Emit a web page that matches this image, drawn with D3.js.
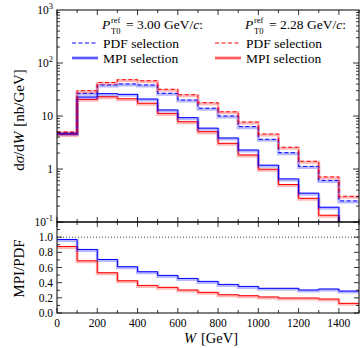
<!DOCTYPE html>
<html>
<head>
<meta charset="utf-8">
<script src="https://cdn.jsdelivr.net/npm/d3@7"></script>
<style>
  body { margin: 0; background: #fff; }
  svg text { font-family: "Liberation Serif", "DejaVu Serif", serif; fill: #000; }
</style>
</head>
<body>
<svg id="chart" width="360" height="348"></svg>
<script>
// bin edges in GeV
var binEdges = [0, 100, 200, 300, 400, 500, 600, 700, 800, 900, 1000, 1100, 1200, 1300, 1400, 1500];

// dsigma/dW [nb/GeV]
var pdfBlue = [4.9, 26.8, 38.5, 40.2, 38.5, 26.8, 20.0, 14.0, 10.0, 6.3, 3.63, 2.03, 1.12, 0.61, 0.25];
var mpiBlue = [4.7, 22.8, 26.4, 25.6, 20.9, 13.0, 9.3, 5.9, 3.85, 2.28, 1.18, 0.65, 0.35, 0.19, 0.072];
var pdfRed  = [5.0, 30.0, 43.0, 48.4, 46.3, 31.9, 25.2, 17.8, 12.0, 7.7, 4.57, 2.57, 1.40, 0.71, 0.305];
var mpiRed  = [4.5, 20.6, 23.1, 21.2, 17.4, 11.2, 7.8, 5.06, 3.05, 1.84, 0.99, 0.51, 0.28, 0.134, 0.039];

// MPI/PDF ratio
var ratioBlue = [0.97, 0.838, 0.706, 0.610, 0.544, 0.496, 0.456, 0.417, 0.377, 0.351, 0.325, 0.325, 0.303, 0.316, 0.289];
var ratioRed  = [0.877, 0.688, 0.531, 0.425, 0.364, 0.338, 0.303, 0.272, 0.241, 0.228, 0.211, 0.197, 0.197, 0.184, 0.127];

var xTicks = [0, 200, 400, 600, 800, 1000, 1200, 1400];
var ratioTicks = [0.0, 0.2, 0.4, 0.6, 0.8, 1.0];
var logTicks = [0.1, 1, 10, 100, 1000];

(function () {
    var blue = "#0000ff", red = "#ff0000";

    var svg = d3.select("#chart");
    var left = 57, right = 359, y0 = 10, mid = 222, bottom = 313;

    var x = d3.scaleLinear().domain([0, 1500]).range([left, right]);
    var yLog = d3.scaleLog().domain([0.1, 1000]).range([mid, y0]);
    var yRat = d3.scaleLinear().domain([0, 1.2]).range([bottom, mid]);

    // clip paths for the two panels
    var defs = svg.append("defs");
    defs.append("clipPath").attr("id", "clipTop").append("rect")
        .attr("x", left).attr("y", y0).attr("width", right - left).attr("height", mid - y0);
    defs.append("clipPath").attr("id", "clipBot").append("rect")
        .attr("x", left).attr("y", mid).attr("width", right - left).attr("height", bottom - mid);

    function stepPath(vals, y) {
        var pts = [];
        vals.forEach(function (v, i) {
            pts.push([x(binEdges[i]), y(v)]);
            pts.push([x(binEdges[i + 1]), y(v)]);
        });
        return d3.line()(pts);
    }

    function drawHist(g, vals, y, color, dashed) {
        // light band behind the line
        g.append("path")
            .attr("d", stepPath(vals, y))
            .attr("fill", "none")
            .attr("stroke", color)
            .attr("stroke-opacity", 0.28)
            .attr("stroke-width", 3)
            .attr("transform", "translate(0,1)");
        g.append("path")
            .attr("d", stepPath(vals, y))
            .attr("fill", "none")
            .attr("stroke", color)
            .attr("stroke-width", 1)
            .attr("stroke-dasharray", dashed ? "4,2.5" : null);
    }

    var gTop = svg.append("g").attr("clip-path", "url(#clipTop)");
    drawHist(gTop, mpiRed, yLog, red, false);
    drawHist(gTop, mpiBlue, yLog, blue, false);
    drawHist(gTop, pdfBlue, yLog, blue, true);
    drawHist(gTop, pdfRed, yLog, red, true);

    var gBot = svg.append("g").attr("clip-path", "url(#clipBot)");
    gBot.append("line")
        .attr("x1", left).attr("x2", right)
        .attr("y1", yRat(1)).attr("y2", yRat(1))
        .attr("stroke", "#444").attr("stroke-width", 1)
        .attr("stroke-dasharray", "1,2");
    drawHist(gBot, ratioRed, yRat, red, false);
    drawHist(gBot, ratioBlue, yRat, blue, false);

    // frames
    var frame = svg.append("g").attr("fill", "none").attr("stroke", "#000").attr("stroke-width", 1);
    frame.append("rect").attr("x", left).attr("y", y0).attr("width", right - left).attr("height", mid - y0);
    frame.append("rect").attr("x", left).attr("y", mid).attr("width", right - left).attr("height", bottom - mid);

    // ticks (inward on all sides)
    var tk = svg.append("g").attr("stroke", "#000").attr("stroke-width", 0.8);
    function tick(x1, y1, x2, y2) {
        tk.append("line").attr("x1", x1).attr("y1", y1).attr("x2", x2).attr("y2", y2);
    }
    d3.range(0, 1501, 100).forEach(function (w) {
        var len = (w % 200 === 0) ? 5 : 3;
        var px = x(w);
        tick(px, y0, px, y0 + len);
        tick(px, mid, px, mid - len);
        tick(px, mid, px, mid + len);
        tick(px, bottom, px, bottom - len);
    });
    [0.1, 1, 10, 100].forEach(function (d) {
        for (var k = 1; k < 10; k++) {
            var v = d * k;
            var len = (k === 1) ? 6 : 3;
            tick(left, yLog(v), left + len, yLog(v));
            tick(right, yLog(v), right - len, yLog(v));
        }
    });
    d3.range(0, 12).forEach(function (i) {
        var v = i / 10;
        var len = (i % 2 === 0) ? 5 : 3;
        tick(left, yRat(v), left + len, yRat(v));
        tick(right, yRat(v), right - len, yRat(v));
    });

    // tick labels
    var lab = svg.append("g").attr("font-size", 11.5);
    xTicks.forEach(function (w) {
        lab.append("text").attr("x", x(w)).attr("y", bottom + 14)
            .attr("text-anchor", "middle").text(w);
    });
    ratioTicks.forEach(function (v) {
        lab.append("text").attr("x", left - 4).attr("y", yRat(v) + 4)
            .attr("text-anchor", "end").text(v.toFixed(1));
    });
    logTicks.forEach(function (v) {
        var t = lab.append("text").attr("x", left - 4).attr("y", yLog(v) + 4)
            .attr("text-anchor", "end");
        var e = Math.round(Math.log10(v));
        if (e === 0) { t.text("1"); }
        else if (e === 1) { t.text("10"); }
        else {
            t.append("tspan").text("10");
            t.append("tspan").attr("dy", -5).attr("font-size", 8.5).text(e);
        }
    });

    // axis titles
    var yt = svg.append("text").attr("font-size", 15).attr("text-anchor", "middle")
        .attr("transform", "translate(24,120) rotate(-90)");
    yt.append("tspan").text("d");
    yt.append("tspan").attr("font-style", "italic").text("σ");
    yt.append("tspan").text("/d");
    yt.append("tspan").attr("font-style", "italic").text("W");
    yt.append("tspan").attr("dx", 5).text("[nb/GeV]");

    svg.append("text").attr("font-size", 15).attr("text-anchor", "middle")
        .attr("transform", "translate(24," + ((mid + bottom) / 2 + 1) + ") rotate(-90)")
        .text("MPI/PDF");

    var xt = svg.append("text").attr("font-size", 14.5).attr("text-anchor", "middle")
        .attr("x", 211).attr("y", 343);
    xt.append("tspan").attr("font-style", "italic").text("W");
    xt.append("tspan").attr("dx", 5).text("[GeV]");

    // legend
    var legend = [
        { px: 102, pt: "3.00", lx: 72, color: blue },
        { px: 245, pt: "2.28", lx: 215, color: red }
    ];
    legend.forEach(function (l) {
        var g = svg.append("g").attr("font-size", 13.5);
        g.append("text").attr("x", l.px).attr("y", 29).attr("font-style", "italic").text("P");
        g.append("text").attr("x", l.px + 9).attr("y", 23).attr("font-size", 8.5).text("ref");
        g.append("text").attr("x", l.px + 9).attr("y", 33.5).attr("font-size", 8.5).text("T0");
        var t = g.append("text").attr("x", l.px + 24).attr("y", 29);
        t.append("tspan").text("= " + l.pt + " GeV/");
        t.append("tspan").attr("font-style", "italic").text("c");
        t.append("tspan").text(":");

        g.append("line").attr("x1", l.lx).attr("x2", l.lx + 26).attr("y1", 43).attr("y2", 43)
            .attr("stroke", l.color).attr("stroke-width", 1).attr("stroke-dasharray", "4,2.5");
        g.append("text").attr("x", l.lx + 31).attr("y", 47.5).text("PDF selection");

        g.append("line").attr("x1", l.lx).attr("x2", l.lx + 26).attr("y1", 58).attr("y2", 58)
            .attr("stroke", l.color).attr("stroke-opacity", 0.3).attr("stroke-width", 3.5);
        g.append("line").attr("x1", l.lx).attr("x2", l.lx + 26).attr("y1", 58).attr("y2", 58)
            .attr("stroke", l.color).attr("stroke-width", 1);
        g.append("text").attr("x", l.lx + 31).attr("y", 62.5).text("MPI selection");
    });
})();
</script>
</body>
</html>
